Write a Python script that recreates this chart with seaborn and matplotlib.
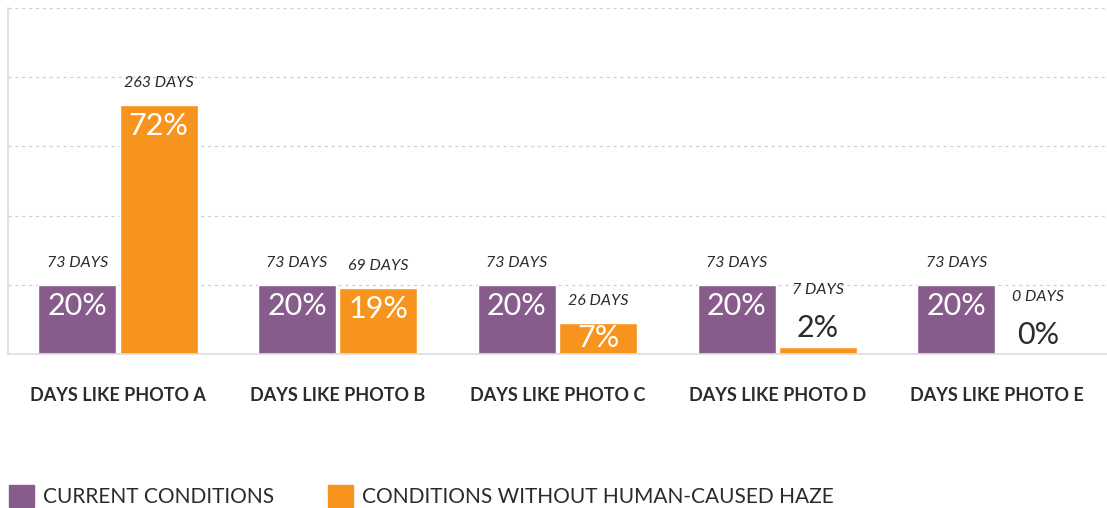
import pandas as pd
import seaborn as sns
import matplotlib.pyplot as plt
from matplotlib.patches import Patch

# values
photos = ['DAYS LIKE PHOTO A', 'DAYS LIKE PHOTO B', 'DAYS LIKE PHOTO C',
          'DAYS LIKE PHOTO D', 'DAYS LIKE PHOTO E']
conditions = ['CURRENT CONDITIONS', 'CONDITIONS WITHOUT HUMAN-CAUSED HAZE']
current_pct = [20, 20, 20, 20, 20]
natural_pct = [72, 19, 9, 2, 0]          # bar heights as drawn
current_days = [73, 73, 73, 73, 73]
natural_days = [263, 69, 26, 7, 0]
current_labels = ['20%', '20%', '20%', '20%', '20%']
natural_labels = ['72%', '19%', '7%', '2%', '0%']

purple = '#875b8b'
orange = '#f7941d'
dark = '#2b2b2b'

df = pd.DataFrame({
    'photo': photos * 2,
    'condition': [conditions[0]] * 5 + [conditions[1]] * 5,
    'pct': current_pct + natural_pct,
})

sns.set_theme(style='white')
plt.rcParams['font.family'] = ['Lato', 'DejaVu Sans']

fig = plt.figure(figsize=(11.07, 5.08), dpi=100)
ax = fig.add_axes([8 / 1107, 1 - 354 / 508, 1 - 8 / 1107, (354 - 8) / 508])

sns.barplot(data=df, x='photo', y='pct', hue='condition', order=photos,
            hue_order=conditions, palette=[purple, orange], width=0.74,
            gap=0.04, saturation=1, legend=False, ax=ax)

ax.set_ylim(0, 100)
ax.set_xlim(-0.5, 4.5)
ax.set_yticks([20, 40, 60, 80, 100])
ax.set_yticklabels([])
ax.tick_params(axis='y', length=0)
ax.yaxis.grid(True, linestyle=(0, (2.5, 3)), color='#cfcfcf', linewidth=0.9)
ax.set_axisbelow(True)
for s in ['top', 'right']:
    ax.spines[s].set_visible(False)
ax.spines['left'].set_color('#dddddd')
ax.spines['bottom'].set_color('#dddddd')
ax.spines['bottom'].set_linewidth(1.2)

# small separators between groups
ax.set_xticks([0.5, 1.5, 2.5, 3.5], minor=True)
ax.tick_params(axis='x', which='minor', direction='in', length=10,
               color='#dddddd', width=1.2)
ax.tick_params(axis='x', which='major', length=0, pad=24)
ax.set_xticklabels(photos, fontsize=13, fontweight='bold', color=dark)
ax.set_xlabel('')
ax.set_ylabel('')

def label_bars(container, days, labels):
    for bar, d, lab in zip(container, days, labels):
        x = bar.get_x() + bar.get_width() / 2
        h = bar.get_height()
        if h >= 5:
            inside = -15 if h >= 15 else -11
            ax.annotate(lab, (x, h), xytext=(0, inside), textcoords='offset points',
                        ha='center', va='center', fontsize=22, color='white')
            ax.annotate(f'{d} DAYS', (x, h), xytext=(0, 16), textcoords='offset points',
                        ha='center', va='center', fontsize=11.5, style='italic', color=dark)
        else:
            ax.annotate(lab, (x, h), xytext=(0, 14), textcoords='offset points',
                        ha='center', va='center', fontsize=22, color=dark)
            ax.annotate(f'{d} DAYS', (x, h), xytext=(0, 41), textcoords='offset points',
                        ha='center', va='center', fontsize=11.5, style='italic', color=dark)

label_bars(ax.containers[0], current_days, current_labels)
label_bars(ax.containers[1], natural_days, natural_labels)

handles = [Patch(color=purple), Patch(color=orange)]
fig.legend(handles, conditions, loc='center left', bbox_to_anchor=(9 / 1107, 1 - 496 / 508),
           ncol=2, frameon=False, fontsize=15, handlelength=1.2, handleheight=1.2,
           handletextpad=0.43, columnspacing=2.6, labelcolor=dark, borderpad=0,
           borderaxespad=0)

fig.savefig('out.png', dpi=100)
